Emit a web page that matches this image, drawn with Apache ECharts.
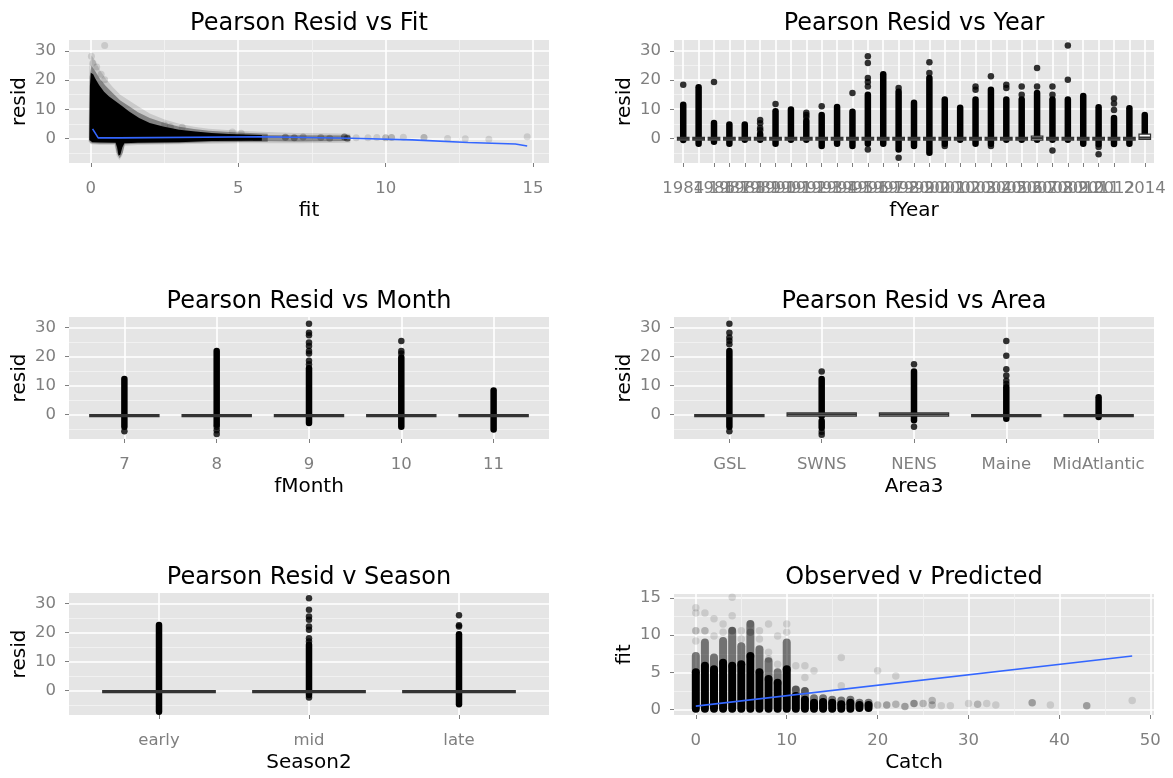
<!DOCTYPE html>
<html>
<head>
<meta charset="utf-8">
<script src="https://cdn.jsdelivr.net/npm/echarts@6/dist/echarts.min.js"></script>
<style>
  html, body { margin: 0; padding: 0; background: #ffffff; }
  #chart { width: 1173px; height: 778px; }
</style>
</head>
<body>
<div id="chart"></div>
<script>
// ---------------- shared residual scale ----------------
const residTicks = [0, 10, 20, 30];
const residMinor = [-5, 5, 15, 25];
const residRange = [-8.4, 33.7];

// ---------------- Pearson resid vs fit ----------------
const fitTicks = [0, 5, 10, 15];
const fitMinor = [2.5, 7.5, 12.5];
const fitRange = [-0.74, 15.54];
// outline of the saturated point cloud [fit, resid]
const fitCoreOutline = [
  [-0.05, 0], [-0.03, 18], [0, 22.5], [0.08, 22], [0.15, 20.5], [0.28, 18.3], [0.45, 16], [0.62, 14.4],
  [0.84, 12.7], [1.07, 11], [1.3, 9.2], [1.64, 7.0], [2.0, 5.3], [2.45, 4.1], [3.0, 3.0], [3.55, 2.4],
  [4.1, 1.9], [4.7, 1.5], [5.8, 1.2],
  [5.8, -0.8], [4.1, -0.9], [3.0, -1.3], [1.6, -1.5], [1.14, -1.6], [1.07, -3.0], [1.0, -5.6],
  [0.94, -5.8], [0.89, -3.0], [0.84, -1.5], [0.3, -1.4], [0.05, -1.3], [-0.05, -0.5]
];
// inner fringe just around the saturated cloud
const fitFringeOutline = [
  [-0.06, 0], [-0.04, 21], [0.02, 25], [0.15, 23], [0.3, 20.5], [0.5, 18], [0.75, 15.5], [1.0, 13],
  [1.3, 11], [1.6, 9], [2.0, 7], [2.5, 5.3], [3.0, 4], [3.5, 3.2], [4.0, 2.6], [5.0, 2.0], [6.0, 1.6],
  [6.0, -1.1], [4.0, -1.3], [3.0, -1.6], [1.6, -1.8], [1.15, -2.0], [1.08, -5.0], [0.98, -6.8],
  [0.88, -5.0], [0.82, -1.8], [0.3, -1.8], [0, -1.6], [-0.06, -0.8]
];
// outer, faint edge of the cloud
const fitHazeOutline = [
  [-0.08, 0], [-0.05, 25], [0.02, 28.5], [0.15, 26.5], [0.3, 23.5], [0.5, 20.5], [0.75, 17.5], [1.0, 15],
  [1.3, 13], [1.6, 11], [2.0, 8.5], [2.5, 6.5], [3.0, 5], [3.5, 4], [4.0, 3.3], [5.0, 2.6], [6.0, 2.2],
  [7.0, 1.9], [8.0, 1.8], [8.8, 1.6],
  [8.8, -1.5], [7.0, -1.6], [5.0, -1.6], [3.0, -2.0], [1.6, -2.2], [1.15, -2.5], [1.06, -6],
  [0.97, -7.4], [0.88, -6], [0.8, -2.2], [0.3, -2.2], [0, -2], [-0.08, -1]
];
// denser band of fits between 5.5 and 8.8
const fitTailOutline = [
  [5.5, 1.2], [7.0, 1.1], [8.8, 1.0], [8.8, -0.9], [7.0, -1.0], [5.5, -0.9]
];
// isolated points [fit, resid, overlapping count]
const fitSparse = [
  [0.47, 31.8, 1], [0.02, 28.1, 1], [0.07, 25.8, 1], [0.2, 24.5, 1], [0.47, 20.1, 1], [0.35, 22, 1],
  [2.5, 4.6, 1], [2.7, 4.0, 1], [3.1, 3.8, 1], [4.8, 2.2, 1], [5.1, 1.8, 1],
  [6.6, 0.4, 3], [6.9, 0.2, 3], [7.2, 0.5, 2], [7.8, 0.3, 2], [8.1, 0.1, 2], [8.6, 0.5, 4],
  [8.7, 0.1, 4], [9.0, 0.2, 1], [9.4, 0.2, 1], [9.7, 0.3, 1], [10.0, 0.2, 2], [10.2, 0.3, 2],
  [10.6, 0.4, 1], [11.3, 0.3, 2], [12.1, 0.0, 1], [12.7, -0.1, 1], [13.5, -0.3, 1], [14.8, 0.6, 1]
];
const fitSmooth = [
  [0.06, 3.3], [0.25, 0.2], [0.95, 0.2], [1.0, 0.6], [5.8, 0.6], [8.8, 0.05], [10.9, -0.5],
  [12.8, -1.4], [14.4, -1.9], [14.8, -2.6]
];

// ---------------- Pearson resid vs year ----------------
const years = ['1984', '1985', '1986', '1987', '1988', '1989', '1990', '1991', '1992', '1993', '1994',
  '1995', '1996', '1997', '1998', '1999', '2000', '2001', '2002', '2003', '2004', '2005', '2006',
  '2007', '2008', '2009', '2010', '2011', '2012', '2013', '2014'];
// [q1, median, q3] per year
const yearBoxes = [
  [-0.6, -0.1, 0.4], [-0.6, -0.1, 0.4], [-0.6, -0.1, 0.4], [-0.6, -0.1, 0.4], [-0.6, -0.1, 0.4],
  [-0.6, -0.1, 0.4], [-0.6, -0.1, 0.4], [-0.6, -0.1, 0.4], [-0.6, -0.1, 0.4], [-0.6, -0.1, 0.4],
  [-0.6, -0.1, 0.4], [-0.6, -0.1, 0.4], [-0.6, -0.1, 0.4], [-0.6, -0.1, 0.4], [-0.6, -0.1, 0.4],
  [-0.6, -0.1, 0.4], [-0.6, -0.1, 0.4], [-0.6, -0.1, 0.4], [-0.6, -0.1, 0.4], [-0.6, -0.1, 0.4],
  [-0.6, -0.1, 0.4], [-0.6, -0.1, 0.4], [-0.6, -0.1, 0.4], [-0.6, 0.1, 0.8], [-0.6, -0.1, 0.4],
  [-0.6, -0.1, 0.4], [-0.6, -0.1, 0.4], [-0.6, -0.1, 0.4], [-0.6, -0.1, 0.4], [-0.6, -0.1, 0.4],
  [-0.3, 0.3, 1.5]
];
// runs of overlapping outliers [year position, low, high]
const yearRuns = [
  [1, -0.5, 11.5], [2, -1.8, 17.5], [3, -1.1, 5.3], [4, -1.8, 4.8], [5, -0.4, 4.8], [6, -0.4, 1.5],
  [7, -1.8, 9.3], [8, -0.4, 9.9], [9, -0.4, 6.0], [10, -2.6, 8.0], [11, -1.8, 10.8], [12, -2.6, 9.1],
  [13, -1.8, 15.0], [14, -1.8, 22.0], [15, -3.8, 16.0], [16, -2.6, 12.2], [17, -4.9, 20.7],
  [18, -1.8, 13.3], [19, -0.4, 10.5], [20, -1.8, 13.3], [21, -1.8, 16.7], [22, -0.4, 13.3],
  [23, -0.4, 13.3], [24, -0.4, 15.6], [25, -0.4, 13.3], [26, -0.4, 13.3], [27, -1.8, 14.5],
  [28, -2.0, 10.7], [29, -1.9, 7.0], [30, -1.8, 10.3], [31, 1.5, 8.0]
];
// single outliers [year position, resid]
const yearOutliers = [
  [1, 18.4], [3, 19.3], [6, 2.8], [6, 3.6], [6, 5.2], [6, 6.3], [7, 11.8], [9, 7.3], [9, 8.0], [9, 8.8],
  [10, 11.0], [12, 15.6], [13, 17.8], [13, 19.3], [13, 20.7], [13, 25.8], [13, 28.1], [13, -3.8],
  [15, 17.3], [15, -6.6], [17, 22.4], [17, 26.1], [18, -2.6], [20, 16.7], [20, 17.8], [21, 21.3],
  [21, -2.6], [22, 17.3], [22, 18.4], [23, 15.0], [23, 17.8], [24, 17.8], [24, 24.1], [25, 15.0],
  [25, 17.8], [25, -4.1], [26, 20.1], [26, 31.8], [28, -2.9], [28, -5.4], [29, 9.7], [29, 12.0],
  [29, 13.7]
];

// ---------------- Pearson resid vs month ----------------
const months = ['7', '8', '9', '10', '11'];
const monthBoxes = [[-0.7, -0.35, 0.0], [-0.7, -0.35, 0.0], [-0.7, -0.35, 0.0], [-0.7, -0.35, 0.0], [-0.7, -0.35, 0.0]];
const monthRuns = [[1, -4.2, 12.3], [2, -3.5, 22.0], [3, -2.9, 16.0], [4, -4.2, 19.7], [5, -5.1, 8.3]];
const monthOutliers = [
  [1, -5.7], [2, -4.2], [2, -5.4], [2, -6.7], [3, 17.4], [3, 18.6], [3, 21.1], [3, 22.0], [3, 23.7],
  [3, 24.9], [3, 27.4], [3, 28.3], [3, 31.4], [4, 21.1], [4, 22.0], [4, 25.4]
];

// ---------------- Pearson resid vs area ----------------
const areas = ['GSL', 'SWNS', 'NENS', 'Maine', 'MidAtlantic'];
const areaBoxes = [[-0.7, -0.35, 0.0], [-0.5, 0.1, 0.6], [-0.5, 0.1, 0.6], [-0.7, -0.35, 0.0], [-0.7, -0.35, 0.0]];
const areaRuns = [[1, -4.2, 22.0], [2, -0.5, 12.3], [2, -4.5, -2.2], [3, -1.9, 14.9], [4, -1.4, 9.5], [5, -0.8, 6.0]];
const areaOutliers = [
  [1, 24.3], [1, 25.5], [1, 26.6], [1, 28.3], [1, 31.4], [1, -5.7], [2, 14.9], [2, -5.9], [2, -6.9],
  [3, 17.4], [3, -4.2], [4, 10.6], [4, 11.7], [4, 13.5], [4, 15.7], [4, 20.3], [4, 25.4]
];

// ---------------- Pearson resid v season ----------------
const seasons = ['early', 'mid', 'late'];
const seasonBoxes = [[-0.7, -0.35, 0.0], [-0.7, -0.35, 0.0], [-0.7, -0.35, 0.0]];
const seasonRuns = [[1, -7.3, 22.7], [2, -1.5, 15.8], [3, -4.7, 19.5]];
const seasonOutliers = [
  [2, 17.0], [2, 18.1], [2, 21.0], [2, 22.1], [2, 24.5], [2, 25.6], [2, 27.9], [2, 31.9], [2, -2.4],
  [3, 22.1], [3, 22.6], [3, 26.0]
];

// ---------------- Observed v predicted ----------------
const catchTicks = [0, 10, 20, 30, 40, 50];
const catchMinor = [5, 15, 25, 35, 45];
const catchRange = [-2.4, 50.4];
const predTicks = [0, 5, 10, 15];
const predMinor = [2.5, 7.5, 12.5];
const predRange = [-0.74, 15.54];
// saturated stacks of fits per catch [catch, low, high]
const catchCore = [
  [0, 0.1, 5.0], [1, 0.1, 5.9], [2, 0.1, 5.4], [3, 0.1, 6.3], [4, 0.1, 5.9], [5, 0.1, 6.1], [6, 0.1, 7.2],
  [7, 0.1, 5.0], [8, 0.1, 4.1], [9, 0.1, 3.6], [10, 0.1, 5.4], [11, 0.1, 1.8], [12, 0.1, 1.3],
  [13, 0.1, 0.9], [14, 0.1, 1.0], [15, 0.1, 0.9], [16, 0.1, 0.7], [17, 0.1, 0.9], [18, 0.2, 0.6],
  [19, 0.2, 0.6]
];
// thinner continuation above each stack [catch, low, high]
const catchHaze = [
  [0, 5.0, 7.2], [1, 5.9, 9.0], [2, 5.4, 7.0], [3, 6.3, 9.2], [4, 5.9, 10.6], [5, 6.1, 8.5], [6, 7.2, 11.5],
  [7, 5.0, 8.1], [8, 4.1, 6.5], [9, 3.6, 5.0], [10, 5.4, 9.0], [11, 1.8, 2.7], [12, 1.3, 2.5],
  [13, 0.9, 1.5], [14, 1.0, 1.5], [15, 0.9, 1.3], [16, 0.7, 1.2], [17, 0.9, 1.3], [18, 0.6, 0.9],
  [19, 0.6, 0.9]
];
// isolated points [catch, fit, overlapping count]
const catchSparse = [
  [0, 9.2, 1], [0, 10.6, 2], [0, 13.0, 1], [0, 13.7, 1], [1, 10.6, 2], [1, 13.0, 1], [2, 9.9, 1],
  [2, 12.2, 1], [3, 11.5, 1], [3, 10.4, 1], [4, 12.6, 1], [4, 15.1, 1], [4, 10.6, 2], [5, 10.6, 1],
  [5, 9.5, 1], [6, 11.5, 1], [6, 10.4, 2], [7, 10.6, 1], [7, 9.5, 1], [8, 11.5, 1], [8, 7.7, 1],
  [8, 6.8, 1], [9, 9.9, 1], [9, 6.1, 1], [10, 11.5, 1], [10, 10.4, 1], [11, 5.9, 1], [11, 2.7, 2],
  [12, 4.3, 1], [12, 5.9, 1], [12, 2.5, 2], [13, 5.2, 1], [16, 7.0, 1], [16, 3.2, 1], [20, 5.2, 1],
  [22, 4.5, 1], [20, 0.6, 2], [21, 0.6, 3], [22, 0.7, 2], [23, 0.4, 3], [24, 0.8, 4], [25, 0.8, 2],
  [26, 1.2, 2], [26, 0.6, 2], [27, 0.5, 1], [28, 0.5, 1], [30, 0.8, 1], [31, 0.7, 2], [32, 0.8, 1],
  [33, 0.6, 1], [37, 0.9, 3], [39, 0.6, 1], [43, 0.5, 3], [48, 1.2, 1]
];
const catchSmooth = [[0, 0.45], [48, 7.2]];

// ---------------- titles ----------------
const panelTitles = ['Pearson Resid vs Fit', 'Pearson Resid vs Year', 'Pearson Resid vs Month',
  'Pearson Resid vs Area', 'Pearson Resid v Season', 'Observed v Predicted'];

// ================= drawing =================
const FONT = "'DejaVu Sans', 'Liberation Sans', sans-serif";
const TICK_COLOR = '#7F7F7F';
const PANEL_BG = '#E5E5E5';
const POINT = 6.5;

const layout = [
  { left: 69,  top: 40,  width: 480, height: 123, titleY: 24 },
  { left: 674, top: 40,  width: 480, height: 123, titleY: 24 },
  { left: 69,  top: 317, width: 480, height: 122, titleY: 302 },
  { left: 674, top: 317, width: 480, height: 122, titleY: 302 },
  { left: 69,  top: 593, width: 480, height: 122, titleY: 578 },
  { left: 674, top: 594, width: 480, height: 121, titleY: 578 }
];

const grids = layout.map(l => ({
  left: l.left, top: l.top, width: l.width, height: l.height,
  show: true, backgroundColor: PANEL_BG, borderWidth: 0, containLabel: false
}));

const xAxes = [];
const yAxes = [];
const series = [];

function minorAxis(g, range, values, dim) {
  return {
    type: 'value', gridIndex: g, min: range[0], max: range[1],
    position: dim === 'x' ? 'bottom' : 'left',
    axisLine: { show: false, onZero: false },
    axisTick: { show: false, customValues: values },
    axisLabel: { show: false, customValues: values },
    splitLine: { show: true, lineStyle: { color: '#F2F2F2', width: 0.9 } }
  };
}

function majorAxis(g, a, dim) {
  return {
    type: 'value', gridIndex: g, min: a.range[0], max: a.range[1],
    position: dim === 'x' ? 'bottom' : 'left',
    axisLine: { show: false, onZero: false },
    axisTick: { show: true, customValues: a.ticks, length: 4, lineStyle: { color: TICK_COLOR, width: 1 } },
    axisLabel: {
      show: true, customValues: a.ticks, color: TICK_COLOR, fontFamily: FONT, fontSize: 16.5,
      margin: dim === 'x' ? 17 : 13, hideOverlap: false, showMinLabel: true, showMaxLabel: true,
      formatter: a.labels ? (v => a.labels[Math.round(v) - 1]) : (v => String(v))
    },
    splitLine: { show: true, lineStyle: { color: '#FFFFFF', width: 1.6 } },
    name: a.title, nameLocation: 'middle', nameGap: dim === 'x' ? 38 : 39,
    nameTextStyle: { color: '#000000', fontFamily: FONT, fontSize: 20 }
  };
}

function addAxes(g, x, y) {
  if (x.minor) xAxes.push(minorAxis(g, x.range, x.minor, 'x'));
  if (y.minor) yAxes.push(minorAxis(g, y.range, y.minor, 'y'));
  const xi = xAxes.length; xAxes.push(majorAxis(g, x, 'x'));
  const yi = yAxes.length; yAxes.push(majorAxis(g, y, 'y'));
  return { xAxisIndex: xi, yAxisIndex: yi };
}

function categoryAxis(labels, title) {
  return {
    range: [0.4, labels.length + 0.6],
    ticks: labels.map((_, i) => i + 1),
    labels: labels, title: title
  };
}
const residAxis = { range: residRange, ticks: residTicks, minor: residMinor, title: 'resid' };

function polygonSeries(ax, outline, fill) {
  return Object.assign({
    type: 'custom', coordinateSystem: 'cartesian2d', silent: true,
    data: [outline[0]],
    renderItem: (params, api) => ({
      type: 'polygon',
      shape: { points: outline.map(p => api.coord(p)) },
      style: { fill: fill }
    })
  }, ax);
}

function runSeries(ax, runs, stroke, width) {
  return Object.assign({
    type: 'custom', coordinateSystem: 'cartesian2d', silent: true,
    data: runs, encode: { x: 0, y: [1, 2] },
    renderItem: (params, api) => {
      const a = api.coord([api.value(0), api.value(1)]);
      const b = api.coord([api.value(0), api.value(2)]);
      return {
        type: 'line',
        shape: { x1: a[0], y1: a[1], x2: b[0], y2: b[1] },
        style: { stroke: stroke, lineWidth: width, lineCap: 'round' }
      };
    }
  }, ax);
}

function boxSeries(ax, boxes) {
  return Object.assign({
    type: 'custom', coordinateSystem: 'cartesian2d', silent: true,
    data: boxes.map((b, i) => [i + 1, b[0], b[1], b[2]]),
    encode: { x: 0, y: [1, 2, 3] },
    renderItem: (params, api) => {
      const x = api.value(0);
      const lo = api.coord([x, api.value(1)]);
      const md = api.coord([x, api.value(2)]);
      const hi = api.coord([x, api.value(3)]);
      const w = api.size([0.75, 0])[0];
      return {
        type: 'group',
        children: [
          { type: 'rect', shape: { x: lo[0] - w / 2, y: hi[1], width: w, height: lo[1] - hi[1] },
            style: { fill: '#FFFFFF', stroke: '#333333', lineWidth: 1.2 } },
          { type: 'line', shape: { x1: md[0] - w / 2, y1: md[1], x2: md[0] + w / 2, y2: md[1] },
            style: { stroke: '#333333', lineWidth: 2.2 } }
        ]
      };
    }
  }, ax);
}

function pointSeries(ax, pts, size) {
  return Object.assign({
    type: 'scatter', silent: true, symbol: 'circle', symbolSize: size,
    itemStyle: { color: '#000000' },
    data: pts
  }, ax);
}

function fadedPointSeries(ax, pts, size) {
  return Object.assign({
    type: 'scatter', silent: true, symbol: 'circle', symbolSize: size,
    data: pts.map(p => ({
      value: [p[0], p[1]],
      itemStyle: { color: '#000000', opacity: 1 - Math.pow(0.88, p[2]) }
    }))
  }, ax);
}

function lineSeries(ax, pts) {
  return Object.assign({
    type: 'line', silent: true, showSymbol: false, symbol: 'none',
    lineStyle: { color: '#3366FF', width: 1.6 },
    data: pts
  }, ax);
}

// panel 0: resid vs fit
{
  const ax = addAxes(0, { range: fitRange, ticks: fitTicks, minor: fitMinor, title: 'fit' }, residAxis);
  series.push(polygonSeries(ax, fitHazeOutline, 'rgba(0,0,0,0.12)'));
  series.push(polygonSeries(ax, fitTailOutline, 'rgba(0,0,0,0.35)'));
  series.push(polygonSeries(ax, fitFringeOutline, 'rgba(0,0,0,0.35)'));
  series.push(polygonSeries(ax, fitCoreOutline, '#000000'));
  series.push(fadedPointSeries(ax, fitSparse, 7));
  series.push(lineSeries(ax, fitSmooth));
}

// boxplot panels
function boxPanel(g, labels, title, boxes, runs, outliers) {
  const ax = addAxes(g, categoryAxis(labels, title), residAxis);
  series.push(runSeries(ax, runs, '#000000', POINT));
  series.push(pointSeries(ax, outliers, POINT));
  series.push(boxSeries(ax, boxes));
}
boxPanel(1, years, 'fYear', yearBoxes, yearRuns, yearOutliers);
boxPanel(2, months, 'fMonth', monthBoxes, monthRuns, monthOutliers);
boxPanel(3, areas, 'Area3', areaBoxes, areaRuns, areaOutliers);
boxPanel(4, seasons, 'Season2', seasonBoxes, seasonRuns, seasonOutliers);

// panel 5: observed v predicted
{
  const ax = addAxes(5,
    { range: catchRange, ticks: catchTicks, minor: catchMinor, title: 'Catch' },
    { range: predRange, ticks: predTicks, minor: predMinor, title: 'fit' });
  series.push(runSeries(ax, catchHaze, 'rgba(0,0,0,0.5)', 8));
  series.push(runSeries(ax, catchCore, '#000000', 8));
  series.push(fadedPointSeries(ax, catchSparse, 7.5));
  series.push(lineSeries(ax, catchSmooth));
}

const titleGraphics = layout.map((l, i) => ({
  type: 'text', silent: true,
  x: l.left + l.width / 2, y: l.titleY,
  style: {
    text: panelTitles[i], fill: '#000000', fontFamily: FONT, fontSize: 24,
    align: 'center', verticalAlign: 'middle', textAlign: 'center', textVerticalAlign: 'middle'
  }
}));

const chart = echarts.init(document.getElementById('chart'), null, { renderer: 'canvas' });
chart.setOption({
  animation: false,
  backgroundColor: '#FFFFFF',
  grid: grids,
  xAxis: xAxes,
  yAxis: yAxes,
  series: series,
  graphic: titleGraphics
});
</script>
</body>
</html>
